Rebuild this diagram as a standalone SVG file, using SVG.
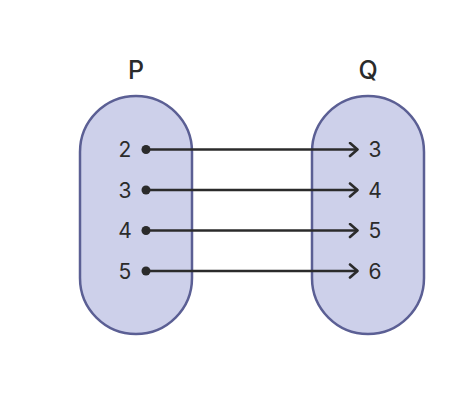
<svg xmlns="http://www.w3.org/2000/svg" width="474" height="408" viewBox="0 0 474 408">
<style>
.set{fill:#cdd0ea;stroke:#5b5f94;stroke-width:2.5}
.t{font-family:"Inter","Liberation Sans",sans-serif;fill:#2b2b2b;text-anchor:middle}
.n{font-size:21px}
.h{font-size:25px;font-weight:500}
.c{stroke:#2b2b2b;stroke-width:2.5;fill:none}
</style>
<defs>
<marker id="ar" viewBox="0 0 12 16" refX="11" refY="8" markerWidth="12" markerHeight="16" markerUnits="userSpaceOnUse" orient="auto">
<path d="M3,1.5 L10.5,8 L3,14.5" fill="none" stroke="#2b2b2b" stroke-width="2.6" stroke-linecap="round" stroke-linejoin="round"/>
</marker>
</defs>
<rect width="474" height="408" fill="#ffffff"/>
<g id="P">
<rect class="set" x="80" y="96" width="112" height="238" rx="56"/>
<text class="t h" x="136" y="79">P</text>
<text class="t n" x="125" y="157">2</text>
<text class="t n" x="125" y="197.5">3</text>
<text class="t n" x="125" y="238">4</text>
<text class="t n" x="125" y="278.5">5</text>
</g>
<g id="Q">
<rect class="set" x="312" y="96" width="112" height="238" rx="56"/>
<text class="t h" x="368" y="79">Q</text>
<text class="t n" x="375" y="157">3</text>
<text class="t n" x="375" y="197.5">4</text>
<text class="t n" x="375" y="238">5</text>
<text class="t n" x="375" y="278.5">6</text>
</g>
<g id="connectors">
<g fill="#2b2b2b">
<circle cx="146" cy="149.5" r="4.5"/>
<circle cx="146" cy="190" r="4.5"/>
<circle cx="146" cy="230.5" r="4.5"/>
<circle cx="146" cy="271" r="4.5"/>
</g>
<line class="c" x1="146" y1="149.5" x2="358" y2="149.5" marker-end="url(#ar)"/>
<line class="c" x1="146" y1="190" x2="358" y2="190" marker-end="url(#ar)"/>
<line class="c" x1="146" y1="230.5" x2="358" y2="230.5" marker-end="url(#ar)"/>
<line class="c" x1="146" y1="271" x2="358" y2="271" marker-end="url(#ar)"/>
</g>
</svg>
